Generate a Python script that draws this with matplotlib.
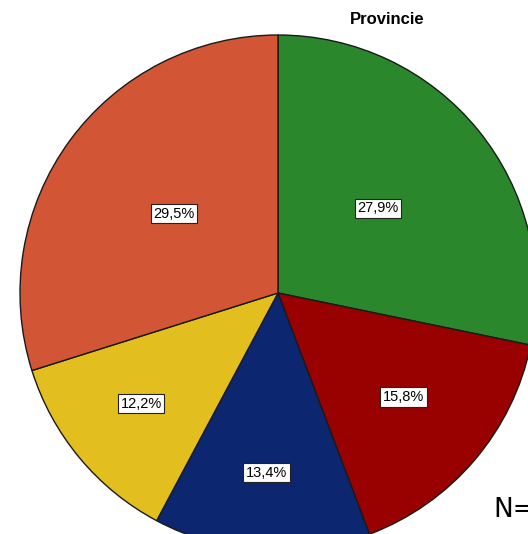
import numpy as np
import matplotlib.pyplot as plt

# Slice values (percent) as printed on the chart, clockwise from top
values = [27.9, 15.8, 13.4, 12.2, 29.5]
labels = ["27,9%", "15,8%", "13,4%", "12,2%", "29,5%"]
colors = ["#2a872c", "#990000", "#0c266f", "#e2be1e", "#d25536"]
label_dist = [0.50, 0.64, 0.71, 0.69, 0.50]

W, H = 528, 534
cx, cy, r = 278, 293, 258

fig = plt.figure(figsize=(W / 100, H / 100), dpi=100)
ax = fig.add_axes([0, 0, 1, 1])

wedges, _ = ax.pie(values, colors=colors, startangle=90, counterclock=False,
                   radius=1, wedgeprops=dict(edgecolor="#1a1a1a", linewidth=1.0),
                   frame=True)
ax.set_xlim(-cx / r, (W - cx) / r)
ax.set_ylim(-(H - cy) / r, cy / r)
ax.set_aspect("auto")
ax.axis("off")

for w, lab, d in zip(wedges, labels, label_dist):
    ang = np.deg2rad((w.theta1 + w.theta2) / 2)
    ax.text(d * np.cos(ang), d * np.sin(ang) + 0.012, lab, ha="center", va="center",
            fontsize=10.5, family="Liberation Sans",
            bbox=dict(boxstyle="square,pad=0.18", facecolor="white",
                      edgecolor="#222222", linewidth=0.8))

fig.text(387 / W, 1 - 20 / H, "Provincie", ha="center", va="center",
         fontsize=12, fontweight="bold", family="Liberation Sans")
fig.text(493 / W, 1 - 510 / H, "N=", ha="left", va="center",
         fontsize=19, family="DejaVu Sans")

fig.savefig("out.png", dpi=100)
